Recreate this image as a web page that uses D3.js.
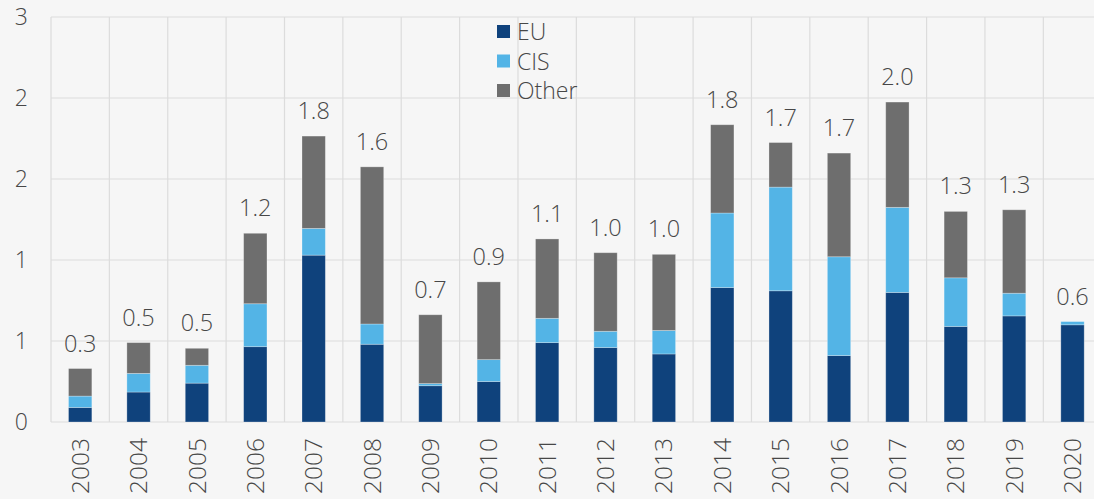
<!DOCTYPE html>
<html>
<head>
<meta charset="utf-8">
<script src="https://cdn.jsdelivr.net/npm/d3@7"></script>
<style>
  html, body { margin: 0; padding: 0; background: #f6f6f6; overflow: hidden; }
  svg { display: block; }
  text { font-family: "Open Sans", "Noto Sans", sans-serif; font-weight: 300; fill: #474747; }
</style>
</head>
<body>
<svg id="chart" width="1094" height="499"></svg>
<script>
// Years on the x axis
const years = ["2003","2004","2005","2006","2007","2008","2009","2010","2011",
               "2012","2013","2014","2015","2016","2017","2018","2019","2020"];

// Series values per year
const eu    = [0.09, 0.185, 0.24, 0.465, 1.03, 0.48, 0.224, 0.25, 0.49,
               0.46, 0.42, 0.83, 0.81, 0.41, 0.80, 0.59, 0.655, 0.60];
const cis   = [0.07, 0.115, 0.11, 0.265, 0.165, 0.125, 0.013, 0.135, 0.15,
               0.10, 0.145, 0.46, 0.64, 0.61, 0.525, 0.30, 0.14, 0.02];
const other = [0.17, 0.19, 0.105, 0.435, 0.57, 0.97, 0.425, 0.48, 0.49,
               0.485, 0.47, 0.545, 0.275, 0.64, 0.65, 0.41, 0.515, 0.0];

const seriesNames = ["EU", "CIS", "Other"];
const seriesColors = ["#0f427c", "#53b4e6", "#6e6e6e"];

// Value-axis ticks and their printed labels
const yTicks = [0, 0.5, 1, 1.5, 2, 2.5];
const yTickLabels = ["0", "1", "1", "2", "2", "3"];

const svg = d3.select("#chart");
const margin = { left: 51, top: 17, bottom: 422 };
const plotRight = 1101.7;

const x = d3.scaleBand().domain(years).range([margin.left, plotRight])
  .paddingInner(0.6).paddingOuter(0.3);
const y = d3.scaleLinear().domain([0, 2.5]).range([margin.bottom, margin.top]);

const rows = years.map((yr, i) => ({ year: yr, EU: eu[i], CIS: cis[i], Other: other[i] }));
const stacked = d3.stack().keys(seriesNames)(rows);

// Grid: horizontal lines at ticks, vertical lines at category boundaries
const grid = svg.append("g").attr("stroke", "#dcdcdc").attr("stroke-width", 1.2);
grid.selectAll("line.h").data(yTicks).join("line")
  .attr("x1", margin.left).attr("x2", plotRight)
  .attr("y1", d => y(d)).attr("y2", d => y(d));
const step = x.step();
const bounds = d3.range(years.length + 1).map(i => margin.left + i * step);
grid.selectAll("line.v").data(bounds).join("line")
  .attr("x1", d => d).attr("x2", d => d)
  .attr("y1", y(2.5)).attr("y2", y(0));

// Value-axis labels
svg.append("g").selectAll("text").data(yTicks).join("text")
  .attr("x", 28).attr("y", d => y(d)).attr("dy", "0.35em")
  .attr("text-anchor", "end").attr("font-size", 23)
  .text((d, i) => yTickLabels[i]);

// Stacked bars
svg.append("g").selectAll("g").data(stacked).join("g")
  .attr("fill", (d, i) => seriesColors[i])
  .selectAll("rect").data(d => d).join("rect")
  .attr("x", d => x(d.data.year))
  .attr("width", x.bandwidth())
  .attr("y", d => y(d[1]))
  .attr("height", d => Math.max(0, y(d[0]) - y(d[1])))
  .attr("stroke", "rgba(255,255,255,0.35)").attr("stroke-width", 0.8);

// Totals above bars
const fmt = d3.format(".1f");
svg.append("g").selectAll("text").data(rows).join("text")
  .attr("x", d => x(d.year) + x.bandwidth() / 2)
  .attr("y", d => y(d.EU + d.CIS + d.Other) - 17)
  .attr("text-anchor", "middle").attr("font-size", 23.5)
  .text(d => fmt(d.EU + d.CIS + d.Other));

// Year labels, rotated
svg.append("g").selectAll("text").data(years).join("text")
  .attr("transform", d => `translate(${x(d) + x.bandwidth() / 2},438) rotate(-90)`)
  .attr("dy", "0.35em").attr("text-anchor", "end").attr("font-size", 24.5)
  .text(d => d);

// Legend
const legend = svg.append("g").attr("transform", "translate(497,25)");
seriesNames.forEach((name, i) => {
  const g = legend.append("g").attr("transform", `translate(0,${i * 29.5})`);
  g.append("rect").attr("width", 13).attr("height", 13).attr("fill", seriesColors[i]);
  g.append("text").attr("x", 20).attr("y", 15).attr("font-size", 23).text(name);
});
</script>
</body>
</html>
